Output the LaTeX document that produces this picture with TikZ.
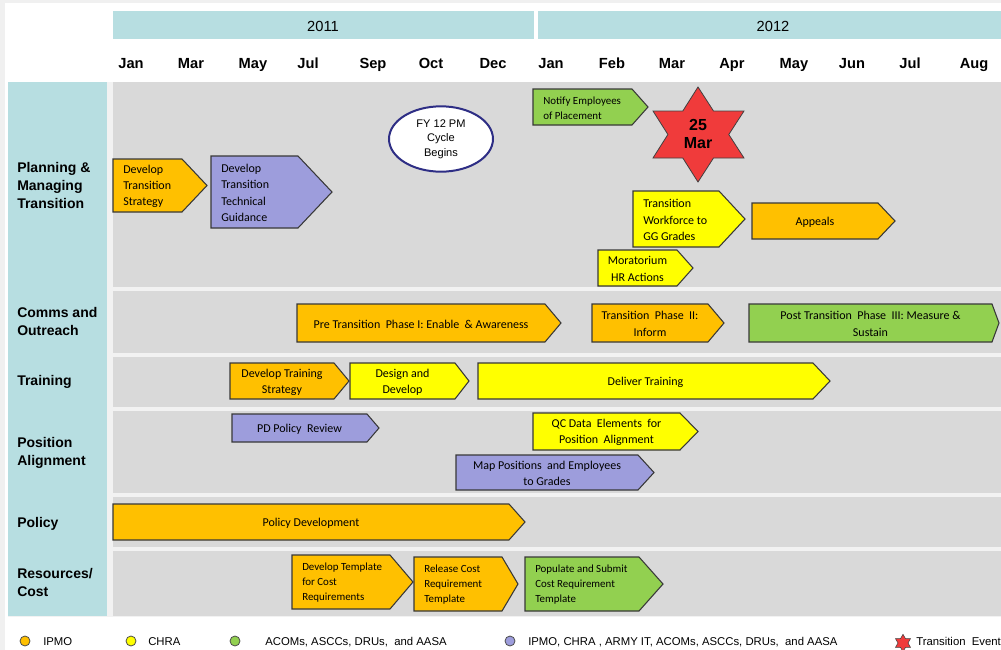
\documentclass[tikz,border=0pt]{standalone}
\usepackage{fontspec}
\setmainfont{Liberation Sans}
\newfontfamily\calibri{Carlito}
\usepackage{tikz}
\usetikzlibrary{shapes.geometric}

\definecolor{outergray}{HTML}{F0F0F0}
\definecolor{sepgray}{HTML}{F2F2F2}
\definecolor{rowgray}{HTML}{D9D9D9}
\definecolor{headteal}{HTML}{B7DEE1}
\definecolor{ipmo}{HTML}{FFC000}
\definecolor{chra}{HTML}{FFFF00}
\definecolor{acom}{HTML}{92D050}
\definecolor{joint}{HTML}{9D9DDC}
\definecolor{eventred}{HTML}{F03B3B}
\definecolor{cyclenavy}{HTML}{2E2E85}

\tikzset{phaseshape/.style={draw=black!78, line width=0.8pt, line join=miter}}
\tikzset{boxtext/.style={font=\calibri\fontsize{9}{12.2}\selectfont, inner sep=0pt}}
\tikzset{smalltext/.style={font=\calibri\fontsize{8.2}{11.3}\selectfont}}
\tikzset{rowlabel/.style={font=\bfseries\fontsize{10.5}{13.5}\selectfont, anchor=west, align=left, inner sep=0pt}}
\tikzset{monthlabel/.style={font=\bfseries\fontsize{11}{13}\selectfont, anchor=base, inner sep=0pt}}
\tikzset{yearlabel/.style={font=\fontsize{11}{13}\selectfont, anchor=base, inner sep=0pt}}
\tikzset{legendtext/.style={font=\fontsize{8.5}{10}\selectfont, anchor=base west, inner sep=0pt}}
\tikzset{legenddot/.style={circle, draw=black!70, line width=0.6pt, minimum size=7.5pt, inner sep=0pt}}

% pentagon bar: [text opts]{name}{colour}{x left}{x body}{x tip}{y top}{y bottom}{text}
\newcommand{\phasebox}[9][]{%
\draw[phaseshape, fill=#3] (#4,#7) -- (#5,#7) -- (#6,{(#7+#8)/2}) -- (#5,#8) -- (#4,#8) -- cycle;
\node[boxtext, align=center, #1] (#2) at ({(#4+#5)/2},{(#7+#8)/2+1}) {#9};
}
\newcommand{\phaseboxl}[9][]{%
\draw[phaseshape, fill=#3] (#4,#7) -- (#5,#7) -- (#6,{(#7+#8)/2}) -- (#5,#8) -- (#4,#8) -- cycle;
\node[boxtext, align=left, anchor=west, #1] (#2) at ({#4+10},{(#7+#8)/2+1}) {#9};
}

\begin{document}
\begin{tikzpicture}[x=0.75pt, y=-0.75pt]
\useasboundingbox (0,0) rectangle (1001,650);
\fill[outergray] (0,0) rectangle (1001,650);
\fill[white] (5,3) rectangle (1001,650);

% years and months
\fill[headteal] (113,11) rectangle (534,39);
\fill[headteal] (538,11) rectangle (1001,39);
\node[yearlabel] (year2011) at (323,31) {2011};
\node[yearlabel] (year2012) at (773,31) {2012};
\foreach \mx/\mname [count=\i] in {131/Jan,191/Mar,253/May,308/Jul,373/Sep,431/Oct,493/Dec,551/Jan,612/Feb,672/Mar,732/Apr,794/May,852/Jun,910/Jul,974/Aug}
  \node[monthlabel] (month\i) at (\mx,68) {\mname};

% rows
\fill[sepgray] (8,82) rectangle (1001,617);
\fill[headteal] (8,82) rectangle (107,616);
\foreach \ytop/\ybot in {82/287,291/353,357/407,411/493,497/547,551/616}
  \fill[rowgray] (113,\ytop) rectangle (1001,\ybot);
\node[rowlabel] (planning) at (17,185) {Planning \&\\Managing\\Transition};
\node[rowlabel] (comms) at (17,321) {Comms and\\Outreach};
\node[rowlabel] (training) at (17,382) {Training};
\node[rowlabel] (position) at (17,453) {Position\\Alignment};
\node[rowlabel] (policy) at (17,524) {Policy};
\node[rowlabel] (resources) at (17,582) {Resources/\\Cost};

% planning & managing transition
\phaseboxl{strategy}{ipmo}{113}{182}{207}{159}{212}{Develop\\Transition\\Strategy}
\phaseboxl{guidance}{joint}{211}{298}{332}{156}{228}{Develop\\Transition\\Technical\\Guidance}
\phaseboxl[smalltext]{notify}{acom}{533}{632}{648}{89}{125}{Notify Employees\\of Placement}
\phaseboxl{workforce}{chra}{633}{719}{745}{191}{247}{Transition\\Workforce to\\GG Grades}
\phasebox{appeals}{ipmo}{752}{878}{895}{203}{239}{Appeals}
\phasebox{moratorium}{chra}{598}{677}{693}{250}{286}{Moratorium\\HR Actions}
\node[ellipse, draw=cyclenavy, line width=1.5pt, fill=white, minimum width=78pt, minimum height=49pt,
  inner sep=0pt, align=center, font=\fontsize{8.3}{10.9}\selectfont] (fycycle) at (441,139) {FY 12 PM\\Cycle\\Begins};
\filldraw[fill=eventred, draw=black!75, line width=0.6pt] (698,87) -- (713.5,111) -- (744,111) -- (728.8,134.5)
  -- (744,158) -- (713.5,158) -- (698,182) -- (682.8,158) -- (653,158) -- (667.9,134.5)
  -- (653,111) -- (682.8,111) -- cycle;
\node[align=center, font=\bfseries\fontsize{12}{14}\selectfont, inner sep=0pt] (marevent) at (698,134) {25\\Mar};

% comms and outreach
\phasebox{phaseone}{ipmo}{297}{545}{561}{304}{342}{Pre Transition\ \ Phase I: Enable\ \ \& Awareness}
\phasebox{phasetwo}{ipmo}{592}{708}{724}{304}{342}{Transition\ \ Phase\ \ II:\\Inform}
\phasebox{phasethree}{acom}{749}{992}{999}{304}{342}{Post Transition\ \ Phase\ \ III: Measure \&\\Sustain}

% training
\phasebox{trainstrategy}{ipmo}{230}{334}{349}{363}{399}{Develop Training\\Strategy}
\phasebox{design}{chra}{350}{455}{469}{363}{399}{Design and\\Develop}
\phasebox{delivertrain}{chra}{478}{813}{830}{363}{399}{Deliver Training}

% position alignment
\phasebox{pdreview}{joint}{232}{367}{379}{414}{442}{PD Policy\ \ Review}
\phasebox{qcdata}{chra}{533}{680}{698}{413}{450}{QC Data\ \ Elements\ \ for\\Position\ \ Alignment}
\phasebox{mappos}{joint}{456}{638}{654}{455}{490}{Map Positions\ \ and Employees\\to Grades}

% policy
\phasebox{policydev}{ipmo}{113}{509}{525}{504}{540}{Policy Development}

% resources / cost
\phaseboxl[smalltext]{costtemplate}{ipmo}{292}{390}{413}{555}{609}{Develop Template\\for Cost\\Requirements}
\phaseboxl[smalltext]{releasecost}{ipmo}{414}{502}{518}{557}{611}{Release Cost\\Requirement\\Template}
\phaseboxl[smalltext]{populate}{acom}{525}{639}{663}{557}{611}{Populate and Submit\\Cost Requirement\\Template}

% legend
\foreach \dx/\tx/\lcol/\ltext [count=\i] in {25/43/ipmo/IPMO, 131/148/chra/CHRA,
    235/265/acom/{ACOMs, ASCCs, DRUs,\ \ and AASA},
    510/528/joint/{IPMO, CHRA , ARMY IT, ACOMs, ASCCs, DRUs,\ \ and AASA}} {
  \node[legenddot, fill=\lcol] (legdot\i) at (\dx,641) {};
  \node[legendtext] (legtext\i) at (\tx,645) {\ltext};
}
\node[star, star points=6, star point ratio=1.73, minimum size=13pt, inner sep=0pt,
  fill=eventred, draw=black!75, line width=0.4pt] (legstar) at (903,643) {};
\node[legendtext] (legtext5) at (916,645) {Transition\ \ Event};
\end{tikzpicture}
\end{document}
